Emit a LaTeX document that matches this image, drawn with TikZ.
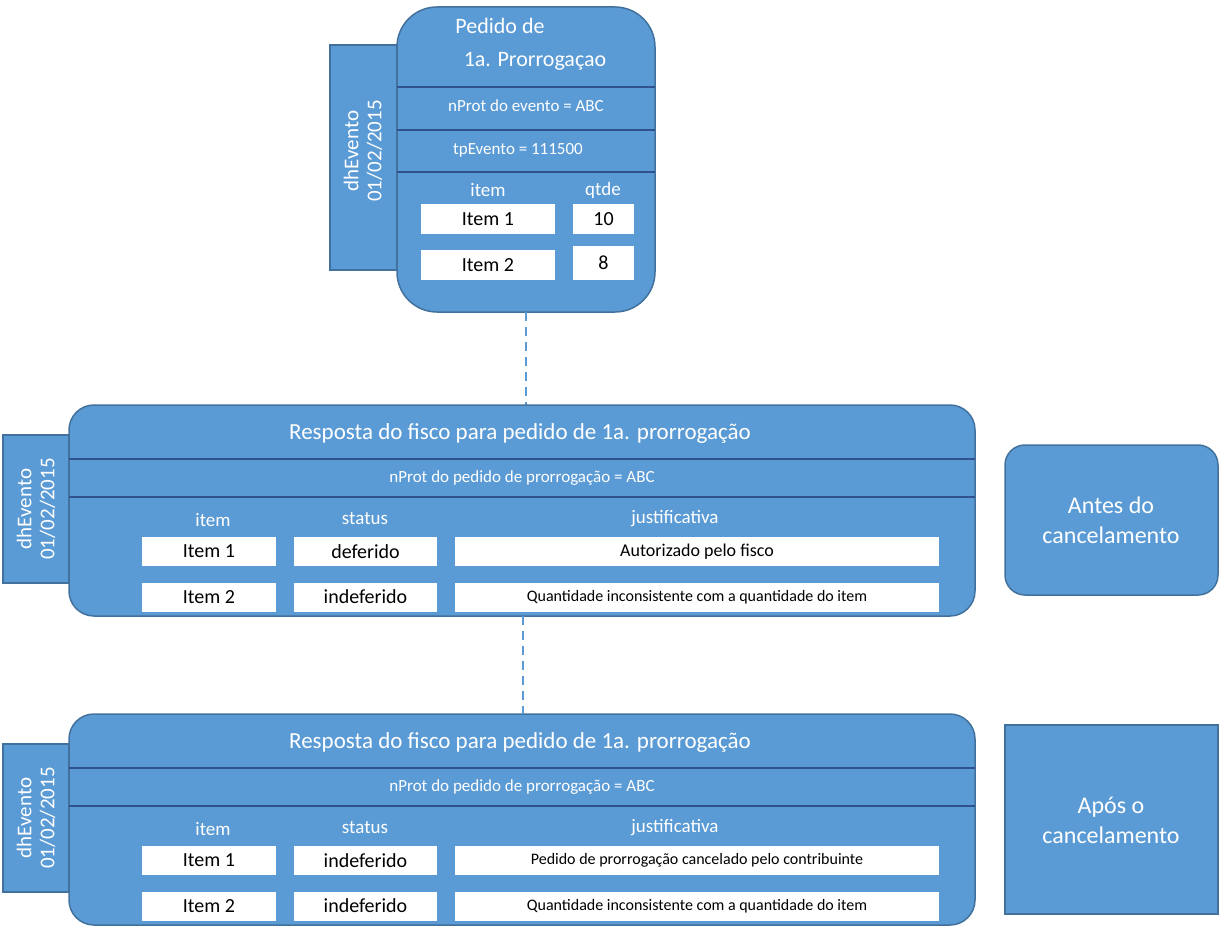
\documentclass[tikz,border=0pt]{standalone}
\usepackage{fontspec}
\setmainfont{Carlito}
\begin{document}
\definecolor{bfill}{HTML}{5B9BD5}
\definecolor{bdraw}{HTML}{41719C}
\definecolor{bline}{HTML}{2F528F}
\begin{tikzpicture}[x=1pt,y=-1pt,
  blk/.style={fill=bfill,draw=bdraw,line width=1.5pt},
  sep/.style={draw=bline,line width=2pt},
  wb/.style={fill=white,draw=none,inner sep=0pt,font=\fontsize{20}{22}\selectfont},
  wt/.style={text=white,inner sep=0pt},
  dashln/.style={draw=bfill,line width=2pt,dash pattern=on 9pt off 6pt}]
\useasboundingbox (0,0) rectangle (1220,936);
% ===== top =====
\draw[blk] (330,45) rectangle (397,270);
\node[wt,rotate=90,align=center,font=\fontsize{21}{23}\selectfont] (tab1) at (363,151) {dhEvento\\01/02/2015};
\draw[blk,rounded corners=40pt] (397,7) rectangle (655,312);
\draw[sep] (397,87) -- (655,87);
\draw[sep] (397,130) -- (655,130);
\draw[sep] (397,172) -- (655,172);
\node[wt,font=\fontsize{22}{24}\selectfont] (t1) at (500,26) {Pedido de};
\node[wt,font=\fontsize{22}{24}\selectfont] (t2) at (535,61) {1a. Prorrogaçao};
\node[wt,font=\fontsize{17}{19}\selectfont] (t3) at (526,106) {nProt do evento = ABC};
\node[wt,font=\fontsize{17}{19}\selectfont] (t4) at (518,150) {tpEvento = 111500};
\node[wt,font=\fontsize{19}{21}\selectfont] (h1) at (488,190) {item};
\node[wt,font=\fontsize{19}{21}\selectfont] (h2) at (603,190) {qtde};
\node[wb,minimum width=134pt,minimum height=30pt] (a1) at (488,219) {Item 1};
\node[wb,minimum width=61pt,minimum height=30pt] (a2) at (603.5,219) {10};
\node[wb,minimum width=134pt,minimum height=30pt] (a3) at (488,265) {Item 2};
\node[wb,minimum width=61pt,minimum height=34pt] (a4) at (603.5,263) {8};
\coordinate (c1) at (526,312);
\coordinate (c2) at (526,405);
\draw[dashln] (c1) -- (c2);
% ===== middle / bottom =====
\foreach \y/\nm/\st/\ja/\jfs in {405/m/deferido/Autorizado pelo fisco/18, 714/b/indeferido/Pedido de prorrogação cancelado pelo contribuinte/16}{
  \begin{scope}[yshift=-\y pt]
  \draw[blk] (3,30) rectangle (69,178);
  \node[wt,rotate=90,align=center,font=\fontsize{21}{23}\selectfont] (\nm tab) at (36,104) {dhEvento\\01/02/2015};
  \draw[blk,rounded corners=25pt] (69,0) rectangle (975,211);
  \draw[sep] (69,54) -- (975,54);
  \draw[sep] (69,92) -- (975,92);
  \node[wt,font=\fontsize{23}{25}\selectfont] (\nm t) at (520,28) {Resposta do fisco para pedido de 1a. prorrogação};
  \node[wt,font=\fontsize{17}{19}\selectfont] (\nm n) at (522,73) {nProt do pedido de prorrogação = ABC};
  \node[wt,font=\fontsize{19}{21}\selectfont] (\nm h1) at (213,115) {item};
  \node[wt,font=\fontsize{19}{21}\selectfont] (\nm h2) at (365,114) {status};
  \node[wt,font=\fontsize{19}{21}\selectfont] (\nm h3) at (675,114) {justificativa};
  \node[wb,minimum width=134pt,minimum height=29pt] (\nm a) at (209,146.5) {Item 1};
  \node[wb,minimum width=143pt,minimum height=29pt] (\nm b) at (365.5,146.5) {\st};
  \node[wb,minimum width=484pt,minimum height=29pt,font=\fontsize{\jfs}{20}\selectfont] (\nm c) at (697,146.5) {\ja};
  \node[wb,minimum width=134pt,minimum height=29pt] (\nm d) at (209,192) {Item 2};
  \node[wb,minimum width=143pt,minimum height=29pt] (\nm e) at (365.5,192) {indeferido};
  \node[wb,minimum width=484pt,minimum height=29pt,font=\fontsize{16}{18}\selectfont] (\nm f) at (697,192) {Quantidade inconsistente com a quantidade do item};
  \end{scope}
}
\coordinate (d1) at (523,616);
\coordinate (d2) at (523,714);
\draw[dashln] (d1) -- (d2);
\draw[blk,rounded corners=20pt] (1005,445) rectangle (1218,595);
\node[wt,align=center,font=\fontsize{24}{30}\selectfont] (r1) at (1111,520) {Antes do\\cancelamento};
\draw[blk] (1005,725) rectangle (1218,914);
\node[wt,align=center,font=\fontsize{24}{30}\selectfont] (r2) at (1111,820) {Após o\\cancelamento};
\end{tikzpicture}
\end{document}
